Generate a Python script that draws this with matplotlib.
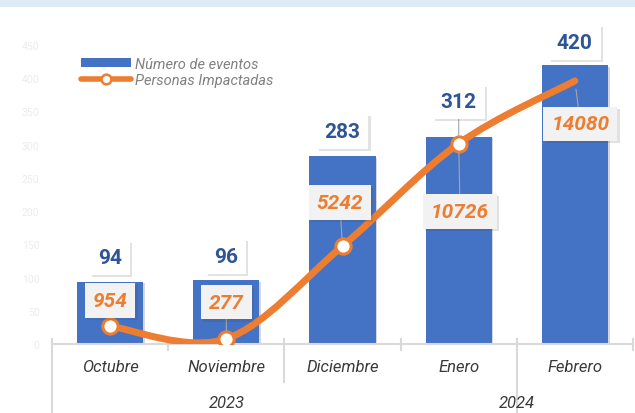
import matplotlib
matplotlib.use("Agg")
import matplotlib.pyplot as plt
import numpy as np
from matplotlib.path import Path
from matplotlib.patches import PathPatch, Patch, Rectangle
from matplotlib.lines import Line2D
import matplotlib.patheffects as pe

plt.rcParams['font.family'] = ['Roboto', 'DejaVu Sans']

# ---- data ----
months = ["Octubre", "Noviembre", "Diciembre", "Enero", "Febrero"]
years = ["2023", "2024"]
year_members = [[0, 1, 2], [3, 4]]
eventos = [94, 96, 283, 312, 420]
personas = [954, 277, 5242, 10726, 14080]
yticks = [0, 50, 100, 150, 200, 250, 300, 350, 400, 450]

# ---- style ----
BLUE = "#4472c4"
DBLUE = "#2f5597"
ORANGE = "#ed7d31"
blue_off = [17, 17, 17.5, 25, 16]          # label offsets (points)
orange_off = [(0, 18.5), (0, 26.5), (-2, 31.5), (1, -49), (4, -31)]

fig = plt.figure(figsize=(6.35, 4.14), dpi=100)
W, H = 635, 414
left, right, bottom, top = 52, 633, 345, 46
ax = fig.add_axes([left / W, (H - bottom) / H, (right - left) / W, (bottom - top) / H])
ax2 = ax.twinx()

# top band
fig.patches.append(Rectangle((0, (H - 8) / H), 1, 8 / H, transform=fig.transFigure,
                             fc="#deeaf6", ec="none", zorder=0))

x = np.arange(len(months))
bars = ax.bar(x, eventos, width=0.57, color=BLUE, zorder=2)
for b in bars:
    b.set_path_effects([pe.SimplePatchShadow(offset=(1.2, -1.2), alpha=0.18), pe.Normal()])

ax.set_xlim(-0.5, len(months) - 0.5)
ax.set_ylim(0, 450)
ax.set_yticks(yticks)
ax.tick_params(axis='y', length=0, labelsize=7.5, labelcolor="#ececec", pad=9)
ax.set_xticks([])
for s in ["top", "right", "left"]:
    ax.spines[s].set_visible(False)
ax.spines["bottom"].set_color("#d9d9d9")
ax.spines["bottom"].set_linewidth(1.5)

ax2.set_ylim(0, 16000)
ax2.set_yticks([])
for s in ax2.spines.values():
    s.set_visible(False)

# smoothed line (Bezier through data points)
P = np.column_stack([x, personas]).astype(float)
n = len(P)
verts = [P[0]]
codes = [Path.MOVETO]
for i in range(n - 1):
    p0 = P[i - 1] if i > 0 else P[i]
    p1, p2 = P[i], P[i + 1]
    p3 = P[i + 2] if i + 2 < n else P[i + 1]
    c1 = p1 + (p2 - p0) / 6
    c2 = p2 - (p3 - p1) / 6
    verts += [c1, c2, p2]
    codes += [Path.CURVE4] * 3
path = Path(verts, codes)
ax2.add_patch(PathPatch(path, fc="none", ec=ORANGE, lw=5, capstyle="round",
                        joinstyle="round", zorder=3))
ax2.plot(x[:-1], personas[:-1], ls="none", marker="o", ms=11, mfc="white",
         mec=ORANGE, mew=2.2, zorder=4)

shadow = [pe.SimplePatchShadow(offset=(1.5, -1.5), alpha=0.16), pe.Normal()]


def leader(off, shrink):
    if abs(off) > 22:
        return dict(arrowstyle="-", color="#a6a6a6", lw=0.8, shrinkA=0, shrinkB=shrink)
    return None


# labels
for i, v in enumerate(eventos):
    t = ax2.annotate(str(v), xy=(i, v), xycoords=ax.transData,
                     xytext=(0, blue_off[i]), textcoords="offset points",
                     ha="center", va="center", fontsize=15, fontweight="bold",
                     color=DBLUE, zorder=6,
                     bbox=dict(boxstyle="square,pad=0.38", fc="white", ec="none"),
                     arrowprops=leader(blue_off[i], 0))
    t.get_bbox_patch().set_path_effects(shadow)

for i, v in enumerate(personas):
    t = ax2.annotate(str(v), xy=(i, v), xycoords=ax2.transData,
                     xytext=orange_off[i], textcoords="offset points",
                     ha="center", va="center", fontsize=15, fontweight="bold",
                     fontstyle="italic", color=ORANGE, zorder=6,
                     bbox=dict(boxstyle="square,pad=0.38", fc="#f2f2f2", ec="none"),
                     arrowprops=leader(orange_off[i][1], 6))
    t.get_bbox_patch().set_path_effects(shadow)

# category axis
trans = ax.get_xaxis_transform()
for i, m in enumerate(months):
    ax.text(i, -23 / 299, m, transform=trans, ha="center", va="center",
            fontsize=12, fontstyle="italic", color="#3a3a3a")
for yl, mem in zip(years, year_members):
    ax.text(np.mean(mem), -59 / 299, yl, transform=trans, ha="center", va="center",
            fontsize=12, fontstyle="italic", color="#3a3a3a")

sep_len = [80, 6, 38, 6, 80, 6]   # pixel lengths of separators
for k, L in enumerate(sep_len):
    xb = k - 0.5
    ax.plot([xb, xb], [5 / 299, -L / 299], transform=trans, color="#d9d9d9",
            lw=1.5, clip_on=False, zorder=1)

# legend
handles = [Patch(fc=BLUE, ec="none"),
           Line2D([], [], color=ORANGE, lw=4, marker="o", ms=7, mfc="white",
                  mec=ORANGE, mew=1.8, solid_capstyle="round")]
leg = ax.legend(handles, ["Número de eventos", "Personas Impactadas"],
                loc="upper left", bbox_to_anchor=(0.038, 0.985), frameon=False,
                borderpad=0, handlelength=3.4, handleheight=0.5, handletextpad=0.25,
                labelspacing=0.15, prop=dict(size=10.5, style="italic"))
for t in leg.get_texts():
    t.set_color("#808080")
leg.set_zorder(7)

fig.savefig("out.png", dpi=100)
